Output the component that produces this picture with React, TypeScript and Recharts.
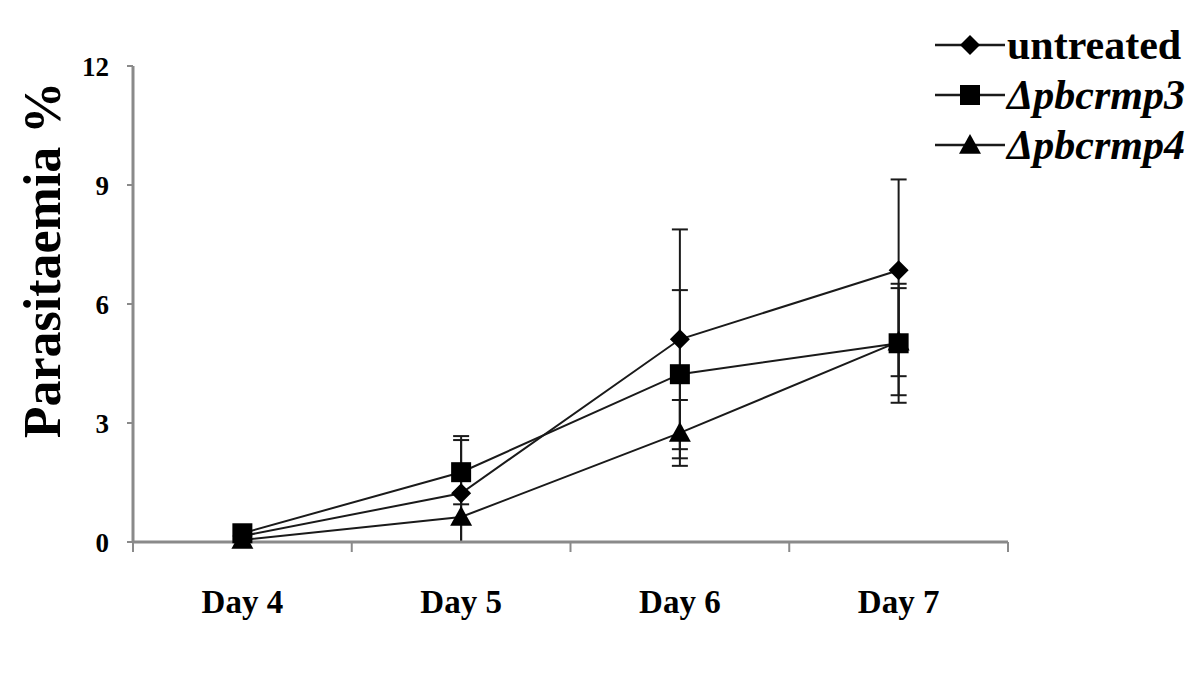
import React from 'react';
import { LineChart, Line, XAxis, YAxis, ErrorBar, Legend } from 'recharts';

// days on the x axis
const days = [4, 5, 6, 7];
// band edges used for the x axis tick marks
const dayEdges = [3.5, 4.5, 5.5, 6.5, 7.5];
const yTicks = [0, 3, 6, 9, 12];

// parasitaemia %
const untreated = [0.15, 1.23, 5.11, 6.85];
const pbcrmp3 = [0.22, 1.76, 4.23, 5.01];
const pbcrmp4 = [0.05, 0.63, 2.75, 5.05];

// error bars as [lower, upper]
const untreatedErr = [[0.05, 0.05], [1.23, 1.44], [2.77, 2.77], [2.67, 2.29]];
const pbcrmp3Err = [[0.08, 0.08], [0.81, 0.81], [2.12, 2.12], [1.5, 1.5]];
const pbcrmp4Err = [[0.05, 0.05], [0.63, 0.63], [0.83, 0.83], [1.35, 1.35]];

const data = days.map((d, i) => ({
  day: d,
  untreated: untreated[i],
  untreatedErr: untreatedErr[i],
  pbcrmp3: pbcrmp3[i],
  pbcrmp3Err: pbcrmp3Err[i],
  pbcrmp4: pbcrmp4[i],
  pbcrmp4Err: pbcrmp4Err[i],
}));

const FONT = '"Liberation Serif", "Times New Roman", serif';
const INK = '#1a1a1a';
const AXIS = '#8a8a8a';

const Diamond = (props: any) => {
  const { cx, cy } = props;
  if (cx == null || cy == null) return null;
  const r = 10;
  return <polygon points={`${cx},${cy - r} ${cx + r},${cy} ${cx},${cy + r} ${cx - r},${cy}`} fill="#000" />;
};

const Square = (props: any) => {
  const { cx, cy } = props;
  if (cx == null || cy == null) return null;
  const s = 10;
  return <rect x={cx - s} y={cy - s} width={s * 2} height={s * 2} fill="#000" />;
};

const Triangle = (props: any) => {
  const { cx, cy } = props;
  if (cx == null || cy == null) return null;
  const r = 11;
  return <polygon points={`${cx},${cy - r} ${cx + r},${cy + r * 0.8} ${cx - r},${cy + r * 0.8}`} fill="#000" />;
};

const legendRows = [
  { label: 'untreated', italic: false, Shape: Diamond },
  { label: 'Δpbcrmp3', italic: true, Shape: Square },
  { label: 'Δpbcrmp4', italic: true, Shape: Triangle },
];

const LegendBox = () => (
  <div style={{ fontFamily: FONT, fontWeight: 'bold', fontSize: 42, whiteSpace: 'nowrap' }}>
    {legendRows.map((row) => (
      <div key={row.label} style={{ display: 'flex', alignItems: 'center', height: 50 }}>
        <svg width={70} height={30}>
          <line x1={0} y1={15} x2={70} y2={15} stroke={INK} strokeWidth={2.5} />
          <row.Shape cx={35} cy={15} />
        </svg>
        <span style={{ fontStyle: row.italic ? 'italic' : 'normal', lineHeight: 1, marginLeft: 2 }}>{row.label}</span>
      </div>
    ))}
  </div>
);

const YLabel = (props: any) => {
  const { viewBox } = props;
  const x = viewBox.x + 42;
  const y = viewBox.y + viewBox.height / 2 - 44;
  return (
    <text
      x={x}
      y={y}
      transform={`rotate(-90, ${x}, ${y})`}
      textAnchor="middle"
      dominantBaseline="central"
      fontFamily={FONT}
      fontWeight="bold"
      fontSize={52}
      fill="#000"
    >
      Parasitaemia %
    </text>
  );
};

const NoTick = () => <g />;

export default function App() {
  return (
    <div style={{ position: 'absolute', left: 0, top: 0, background: '#fff' }}>
      <LineChart width={1200} height={681} data={data} margin={{ top: 66, right: 192, bottom: 47, left: 0 }}>
        <XAxis
          xAxisId="a_edges"
          dataKey="day"
          type="number"
          domain={[3.5, 7.5]}
          allowDataOverflow
          ticks={dayEdges}
          interval={0}
          tick={<NoTick />}
          tickSize={10}
          tickLine={{ stroke: AXIS, strokeWidth: 2 }}
          axisLine={{ stroke: AXIS, strokeWidth: 3 }}
          height={12}
        />
        <XAxis
          xAxisId="b_days"
          dataKey="day"
          type="number"
          domain={[3.5, 7.5]}
          ticks={days}
          tickFormatter={(v) => `Day ${v}`}
          axisLine={false}
          tickLine={false}
          tickMargin={30}
          height={80}
          tick={{ fontFamily: FONT, fontWeight: 'bold', fontSize: 33, fill: '#000' }}
        />
        <YAxis
          domain={[0, 12]}
          ticks={yTicks}
          width={133}
          tickSize={6}
          tickMargin={18}
          tickLine={{ stroke: AXIS, strokeWidth: 2 }}
          axisLine={{ stroke: AXIS, strokeWidth: 3 }}
          tick={{ fontFamily: FONT, fontWeight: 'bold', fontSize: 27, fill: '#000' }}
          label={<YLabel />}
        />
        <Legend
          layout="vertical"
          align="center"
          verticalAlign="middle"
          content={<LegendBox />}
          wrapperStyle={{ top: 20, left: 935, width: 'auto' }}
        />
        <Line
          xAxisId="b_days"
          dataKey="untreated"
          stroke={INK}
          strokeWidth={2}
          dot={<Diamond />}
          activeDot={false}
          isAnimationActive={false}
        >
          <ErrorBar dataKey="untreatedErr" width={8} stroke={INK} strokeWidth={2} isAnimationActive={false} />
        </Line>
        <Line
          xAxisId="b_days"
          dataKey="pbcrmp3"
          stroke={INK}
          strokeWidth={2}
          dot={<Square />}
          activeDot={false}
          isAnimationActive={false}
        >
          <ErrorBar dataKey="pbcrmp3Err" width={8} stroke={INK} strokeWidth={2} isAnimationActive={false} />
        </Line>
        <Line
          xAxisId="b_days"
          dataKey="pbcrmp4"
          stroke={INK}
          strokeWidth={2}
          dot={<Triangle />}
          activeDot={false}
          isAnimationActive={false}
        >
          <ErrorBar dataKey="pbcrmp4Err" width={8} stroke={INK} strokeWidth={2} isAnimationActive={false} />
        </Line>
      </LineChart>
    </div>
  );
}
